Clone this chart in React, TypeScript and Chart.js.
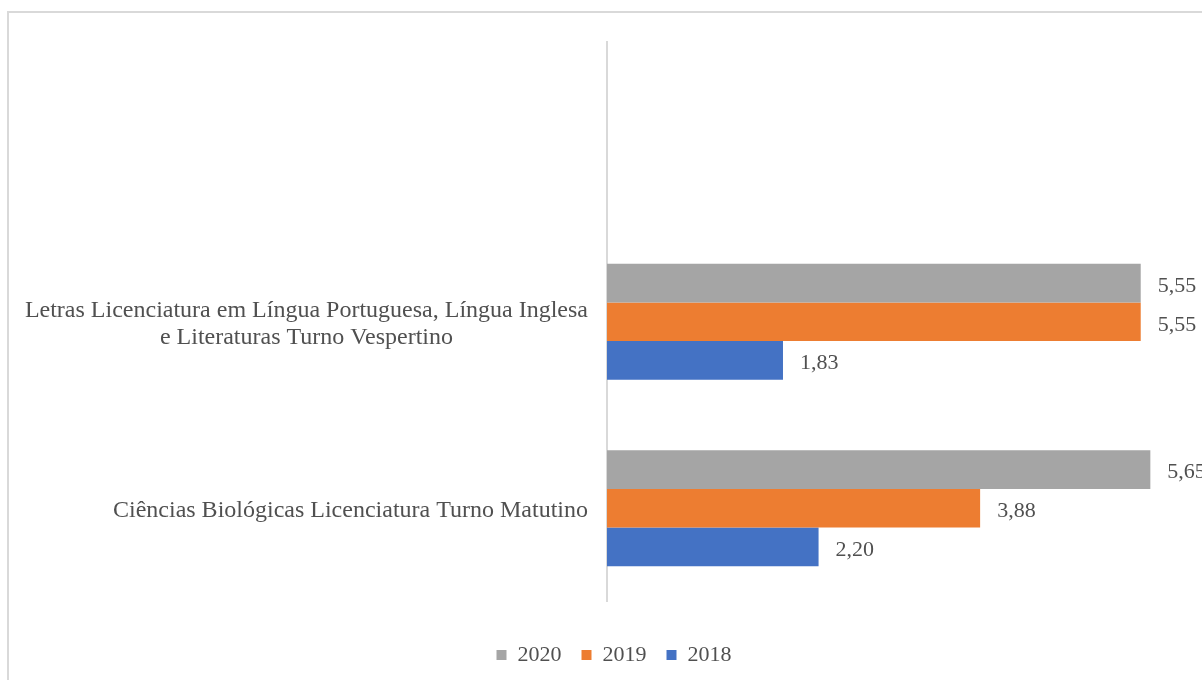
import React, { useEffect, useRef } from "react";
import { Chart, registerables } from "chart.js";

Chart.register(...registerables);

const categories: string[][] = [
  [""],
  ["Letras Licenciatura em Língua Portuguesa, Língua Inglesa", "e Literaturas Turno Vespertino"],
  ["Ciências Biológicas Licenciatura Turno Matutino"],
];
const seriesNames = ["2020", "2019", "2018"];
const values2020: (number | null)[] = [null, 5.55, 5.65];
const values2019: (number | null)[] = [null, 5.55, 3.88];
const values2018: (number | null)[] = [null, 1.83, 2.2];
const seriesColors = ["#a5a5a5", "#ed7d31", "#4472c4"];
const xMin = 0;
const xMax = 6;

const FONT = '"Liberation Serif", "Times New Roman", serif';
const TEXT_COLOR = "#505050";

const categoryLabelPlugin = {
  id: "categoryLabels",
  afterDraw(chart: any) {
    const ctx = chart.ctx;
    const yScale = chart.scales.y;
    const xRight = chart.chartArea.left - 19;
    const lh = 27;
    ctx.save();
    ctx.font = `24px ${FONT}`;
    ctx.fillStyle = TEXT_COLOR;
    ctx.textAlign = "center";
    ctx.textBaseline = "middle";
    categories.forEach((lines, i) => {
      const yPix = yScale.getPixelForValue(i) + 2;
      const maxW = Math.max(...lines.map((l) => ctx.measureText(l).width));
      const cx = xRight - maxW / 2;
      const y0 = yPix - ((lines.length - 1) * lh) / 2;
      lines.forEach((l, j) => ctx.fillText(l, cx, y0 + j * lh));
    });
    ctx.restore();
  },
};

const valueLabelPlugin = {
  id: "valueLabels",
  afterDatasetsDraw(chart: any) {
    const ctx = chart.ctx;
    ctx.save();
    ctx.font = `22px ${FONT}`;
    ctx.fillStyle = TEXT_COLOR;
    ctx.textAlign = "left";
    ctx.textBaseline = "middle";
    chart.data.datasets.forEach((ds: any, di: number) => {
      const meta = chart.getDatasetMeta(di);
      meta.data.forEach((bar: any, i: number) => {
        const v = ds.data[i];
        if (v === null || v === undefined) return;
        ctx.fillText(v.toFixed(2).replace(".", ","), bar.x + 17, bar.y + 3);
      });
    });
    ctx.restore();
  },
};

export default function App() {
  const ref = useRef<HTMLCanvasElement | null>(null);
  useEffect(() => {
    if (!ref.current) return;
    const chart = new Chart(ref.current, {
      type: "bar",
      data: {
        labels: categories,
        datasets: [values2020, values2019, values2018].map((d, i) => ({
          label: seriesNames[i],
          data: d,
          backgroundColor: seriesColors[i],
          borderWidth: 0,
          barPercentage: 1,
          categoryPercentage: 0.622,
        })),
      },
      options: {
        indexAxis: "y",
        responsive: false,
        animation: false,
        layout: { padding: { top: 42, right: 18, bottom: 4, left: 44 } },
        scales: {
          x: {
            min: xMin,
            max: xMax,
            display: true,
            grid: { display: false },
            border: { display: false },
            ticks: { display: false },
            afterFit: (s: any) => {
              s.height = 22.5;
            },
          },
          y: {
            type: "category",
            grid: { display: false },
            border: { display: true, color: "#d9d9d9", width: 2 },
            ticks: { display: false },
            afterFit: (s: any) => {
              s.width = 607 - 44;
            },
          },
        },
        plugins: {
          legend: {
            position: "bottom",
            labels: {
              boxWidth: 10,
              boxHeight: 10,
              padding: 20,
              color: TEXT_COLOR,
              font: { family: FONT, size: 22 },
            },
          },
          tooltip: { enabled: false },
        },
      },
      plugins: [categoryLabelPlugin, valueLabelPlugin],
    } as any);
    return () => chart.destroy();
  }, []);

  return (
    <div
      style={{
        position: "fixed",
        left: 0,
        top: 0,
        width: 1202,
        height: 680,
        overflow: "hidden",
        background: "#ffffff",
      }}
    >
      <div
        style={{
          position: "absolute",
          left: 7,
          top: 11,
          width: 1260,
          height: 740,
          border: "2px solid #d9d9d9",
        }}
      />
      <canvas
        ref={ref}
        width={1202}
        height={680}
        style={{ position: "absolute", left: 0, top: 0, width: 1202, height: 680 }}
      />
    </div>
  );
}
